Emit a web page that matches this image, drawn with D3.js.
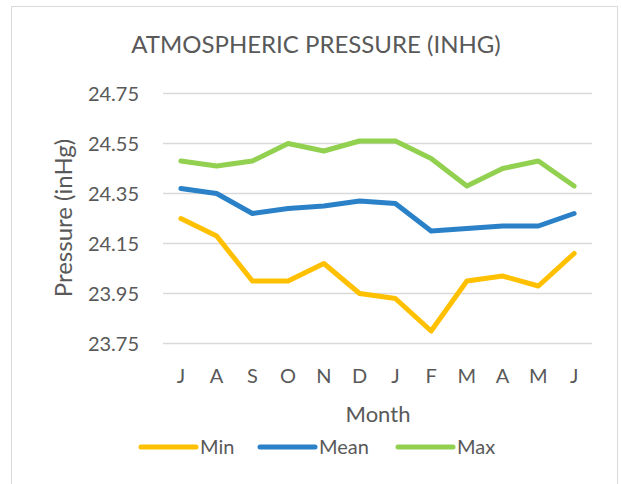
<!DOCTYPE html>
<html>
<head>
<meta charset="utf-8">
<script src="https://cdn.jsdelivr.net/npm/d3@7"></script>
<style>
  body { margin: 0; background: #fff; }
  svg text { font-family: Lato, "Open Sans", sans-serif; fill: #595959; }
</style>
</head>
<body>
<svg id="chart" width="621" height="484"></svg>
<script>
// month labels, July to June
var months = ["J", "A", "S", "O", "N", "D", "J", "F", "M", "A", "M", "J"];
var minValues = [24.25, 24.18, 24.00, 24.00, 24.07, 23.95, 23.93, 23.80, 24.00, 24.02, 23.98, 24.11];
var meanValues = [24.37, 24.35, 24.27, 24.29, 24.30, 24.32, 24.31, 24.20, 24.21, 24.22, 24.22, 24.27];
var maxValues = [24.48, 24.46, 24.48, 24.55, 24.52, 24.56, 24.56, 24.49, 24.38, 24.45, 24.48, 24.38];
var yTicks = [23.75, 23.95, 24.15, 24.35, 24.55, 24.75];

var series = [
    { name: "Min", values: minValues, color: "#FFC000" },
    { name: "Mean", values: meanValues, color: "#2A81C8" },
    { name: "Max", values: maxValues, color: "#92D050" }
];

var svg = d3.select("#chart");

// outer chart border
svg.append("rect")
    .attr("x", 11.5).attr("y", 6.5)
    .attr("width", 606).attr("height", 490)
    .attr("fill", "#fff")
    .attr("stroke", "#D9D9D9")
    .attr("stroke-width", 1);

var x = d3.scaleBand()
    .domain(d3.range(months.length))
    .range([163, 592]);

var y = d3.scaleLinear()
    .domain([23.75, 24.75])
    .range([343.5, 93.5]);

// gridlines
svg.append("g").selectAll("line").data(yTicks)
    .enter().append("line")
    .attr("x1", 163).attr("x2", 592)
    .attr("y1", function (d) { return y(d); })
    .attr("y2", function (d) { return y(d); })
    .attr("stroke", "#D9D9D9")
    .attr("stroke-width", 1.3);

// y tick labels
svg.append("g").selectAll("text").data(yTicks)
    .enter().append("text")
    .attr("x", 139)
    .attr("y", function (d) { return y(d); })
    .attr("dy", "0.35em")
    .attr("text-anchor", "end")
    .attr("font-size", 20)
    .text(function (d) { return d3.format(".2f")(d); });

// x tick labels
svg.append("g").selectAll("text").data(months)
    .enter().append("text")
    .attr("x", function (d, i) { return x(i) + x.bandwidth() / 2; })
    .attr("y", 376)
    .attr("dy", "0.35em")
    .attr("text-anchor", "middle")
    .attr("font-size", 20)
    .text(function (d) { return d; });

var line = d3.line()
    .x(function (d, i) { return x(i) + x.bandwidth() / 2; })
    .y(function (d) { return y(d); });

svg.append("g").selectAll("path").data(series)
    .enter().append("path")
    .attr("d", function (d) { return line(d.values); })
    .attr("fill", "none")
    .attr("stroke", function (d) { return d.color; })
    .attr("stroke-width", 5)
    .attr("stroke-linejoin", "round")
    .attr("stroke-linecap", "round");

// titles
svg.append("text")
    .attr("x", 316).attr("y", 45)
    .attr("dy", "0.35em")
    .attr("text-anchor", "middle")
    .attr("font-size", 24)
    .text("ATMOSPHERIC PRESSURE (INHG)");

svg.append("text")
    .attr("transform", "translate(64,218) rotate(-90)")
    .attr("dy", "0.35em")
    .attr("text-anchor", "middle")
    .attr("font-size", 24)
    .text("Pressure (inHg)");

svg.append("text")
    .attr("x", 378).attr("y", 414)
    .attr("dy", "0.35em")
    .attr("text-anchor", "middle")
    .attr("font-size", 22)
    .text("Month");

// legend
var legendX = [141, 260, 398];
var legend = svg.append("g").selectAll("g").data(series)
    .enter().append("g")
    .attr("transform", function (d, i) { return "translate(" + legendX[i] + ",447)"; });

legend.append("line")
    .attr("x1", 0).attr("x2", 55)
    .attr("stroke", function (d) { return d.color; })
    .attr("stroke-width", 5)
    .attr("stroke-linecap", "round");

legend.append("text")
    .attr("x", 59)
    .attr("dy", "0.35em")
    .attr("font-size", 20)
    .text(function (d) { return d.name; });
</script>
</body>
</html>
